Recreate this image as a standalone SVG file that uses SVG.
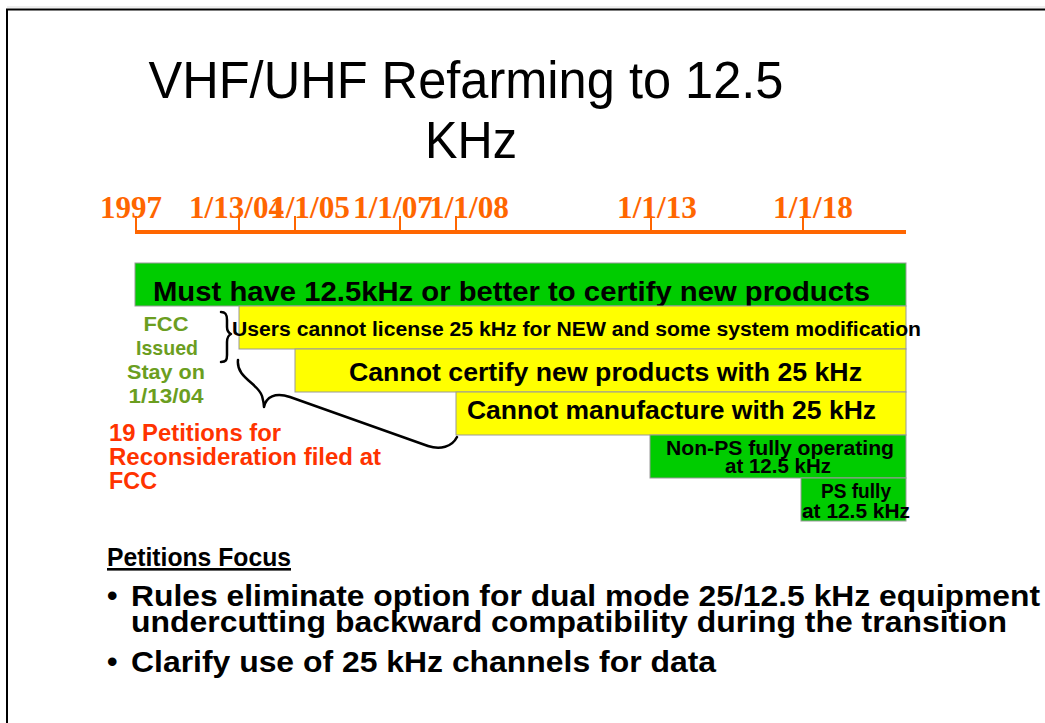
<svg xmlns="http://www.w3.org/2000/svg" width="1045" height="723" viewBox="0 0 1045 723">
<style>
.sans{font-family:"Liberation Sans",Arial,sans-serif}
.b{font-weight:bold}
.date{font-family:"Liberation Serif","Times New Roman",serif;font-weight:bold;font-size:32px;fill:#FF6600}
.bar{stroke:#999999;stroke-width:1}
.g{fill:#00CC00}
.y{fill:#FFFF00}
.lbl{font-family:"Liberation Sans",Arial,sans-serif;font-weight:bold;fill:#000}
.brace{fill:none;stroke:#000;stroke-width:2.5;stroke-linecap:round;stroke-linejoin:round}
</style>
<rect x="0" y="0" width="1045" height="723" fill="#fff"/>
<line x1="7" y1="7" x2="1045" y2="7" stroke="#dddddd" stroke-width="1"/>
<path d="M7,723 L7,9.5 L1045,9.5" fill="none" stroke="#000" stroke-width="2"/>

<g id="title">
<text class="sans" x="466" y="98" font-size="51" text-anchor="middle" textLength="635" lengthAdjust="spacingAndGlyphs">VHF/UHF Refarming to 12.5</text>
<text class="sans" x="471" y="158" font-size="51" text-anchor="middle" textLength="92" lengthAdjust="spacingAndGlyphs">KHz</text>
</g>

<g id="timeline">
<text class="date" x="100" y="218" textLength="62" lengthAdjust="spacingAndGlyphs">1997</text>
<text class="date" x="189" y="218" textLength="95" lengthAdjust="spacingAndGlyphs">1/13/04</text>
<text class="date" x="270" y="218" textLength="80" lengthAdjust="spacingAndGlyphs">1/1/05</text>
<text class="date" x="353" y="218" textLength="80" lengthAdjust="spacingAndGlyphs">1/1/07</text>
<text class="date" x="429" y="218" textLength="80" lengthAdjust="spacingAndGlyphs">1/1/08</text>
<text class="date" x="617" y="218" textLength="80" lengthAdjust="spacingAndGlyphs">1/1/13</text>
<text class="date" x="773" y="218" textLength="80" lengthAdjust="spacingAndGlyphs">1/1/18</text>
<g stroke="#FF6600" fill="none">
<line x1="135" y1="232" x2="906" y2="232" stroke-width="4"/>
<g stroke-width="2">
<line x1="136" y1="216" x2="136" y2="232"/>
<line x1="239" y1="216" x2="239" y2="232"/>
<line x1="295" y1="216" x2="295" y2="232"/>
<line x1="400" y1="216" x2="400" y2="232"/>
<line x1="456" y1="216" x2="456" y2="232"/>
<line x1="651" y1="216" x2="651" y2="232"/>
<line x1="803" y1="216" x2="803" y2="232"/>
</g>
</g>
</g>

<g id="bar-certify-12">
<rect class="bar g" x="135" y="263" width="771" height="43"/>
<text class="lbl" x="153" y="301" font-size="28" textLength="717" lengthAdjust="spacingAndGlyphs">Must have 12.5kHz or better to certify new products</text>
</g>
<g id="bar-license">
<rect class="bar y" x="239" y="306" width="667" height="43"/>
<text class="lbl" x="232" y="336" font-size="20" textLength="689" lengthAdjust="spacingAndGlyphs">Users cannot license 25 kHz for NEW and some system modification</text>
</g>
<g id="bar-certify-25">
<rect class="bar y" x="295" y="349" width="611" height="43"/>
<text class="lbl" x="349" y="381" font-size="25" textLength="513" lengthAdjust="spacingAndGlyphs">Cannot certify new products with 25 kHz</text>
</g>
<g id="bar-manufacture">
<rect class="bar y" x="456" y="392" width="450" height="43"/>
<text class="lbl" x="467" y="419" font-size="25" textLength="409" lengthAdjust="spacingAndGlyphs">Cannot manufacture with 25 kHz</text>
</g>
<g id="bar-nonps">
<rect class="bar g" x="650" y="435" width="256" height="43"/>
<text class="lbl" x="666" y="455" font-size="20" textLength="228" lengthAdjust="spacingAndGlyphs">Non-PS fully operating</text>
<text class="lbl" x="778" y="473" font-size="20" text-anchor="middle" textLength="106" lengthAdjust="spacingAndGlyphs">at 12.5 kHz</text>
</g>
<g id="bar-ps">
<rect class="bar g" x="801" y="478" width="105" height="43"/>
<text class="lbl" x="856" y="498" font-size="20" text-anchor="middle" textLength="70" lengthAdjust="spacingAndGlyphs">PS fully</text>
<text class="lbl" x="856" y="518" font-size="20" text-anchor="middle" textLength="108" lengthAdjust="spacingAndGlyphs">at 12.5 kHz</text>
</g>

<g id="fcc-stay">
<g class="sans b" font-size="21" fill="#6B9E1F" text-anchor="middle">
<text x="166" y="331" textLength="45" lengthAdjust="spacingAndGlyphs">FCC</text>
<text x="167" y="355" textLength="62" lengthAdjust="spacingAndGlyphs">Issued</text>
<text x="166" y="379" textLength="78" lengthAdjust="spacingAndGlyphs">Stay on</text>
<text x="166" y="403" textLength="75" lengthAdjust="spacingAndGlyphs">1/13/04</text>
</g>
</g>

<g id="petitions">
<g class="sans b" font-size="23" fill="#FF3300">
<text x="109" y="441" textLength="172" lengthAdjust="spacingAndGlyphs">19 Petitions for</text>
<text x="109" y="465" textLength="272" lengthAdjust="spacingAndGlyphs">Reconsideration filed at</text>
<text x="109" y="489" textLength="48" lengthAdjust="spacingAndGlyphs">FCC</text>
</g>
</g>

<g id="connectors">
<path class="brace" d="M221,312 C226,312 227,315 227,320 L227,327 C227,331 229,333 231,334 C229,335 227,337 227,342 L227,355 C227,360 226,362 221,362"/>
<path class="brace" d="M238,360 C236,378 258,383 262,396 C263,400 264,403 264,407 C266,397 275,392 290,397 L428,446 C440,450 452,447 457,437"/>
</g>

<g id="focus">
<text class="sans b" x="107" y="566" font-size="26" text-decoration="underline" textLength="184" lengthAdjust="spacingAndGlyphs">Petitions Focus</text>
<g class="sans b" font-size="30" fill="#000">
<text x="107" y="606">•</text>
<text x="131" y="606" textLength="909" lengthAdjust="spacingAndGlyphs">Rules eliminate option for dual mode 25/12.5 kHz equipment</text>
<text x="131" y="632" textLength="876" lengthAdjust="spacingAndGlyphs">undercutting backward compatibility during the transition</text>
<text x="107" y="672">•</text>
<text x="131" y="672" textLength="585" lengthAdjust="spacingAndGlyphs">Clarify use of 25 kHz channels for data</text>
</g>
</g>
</svg>
